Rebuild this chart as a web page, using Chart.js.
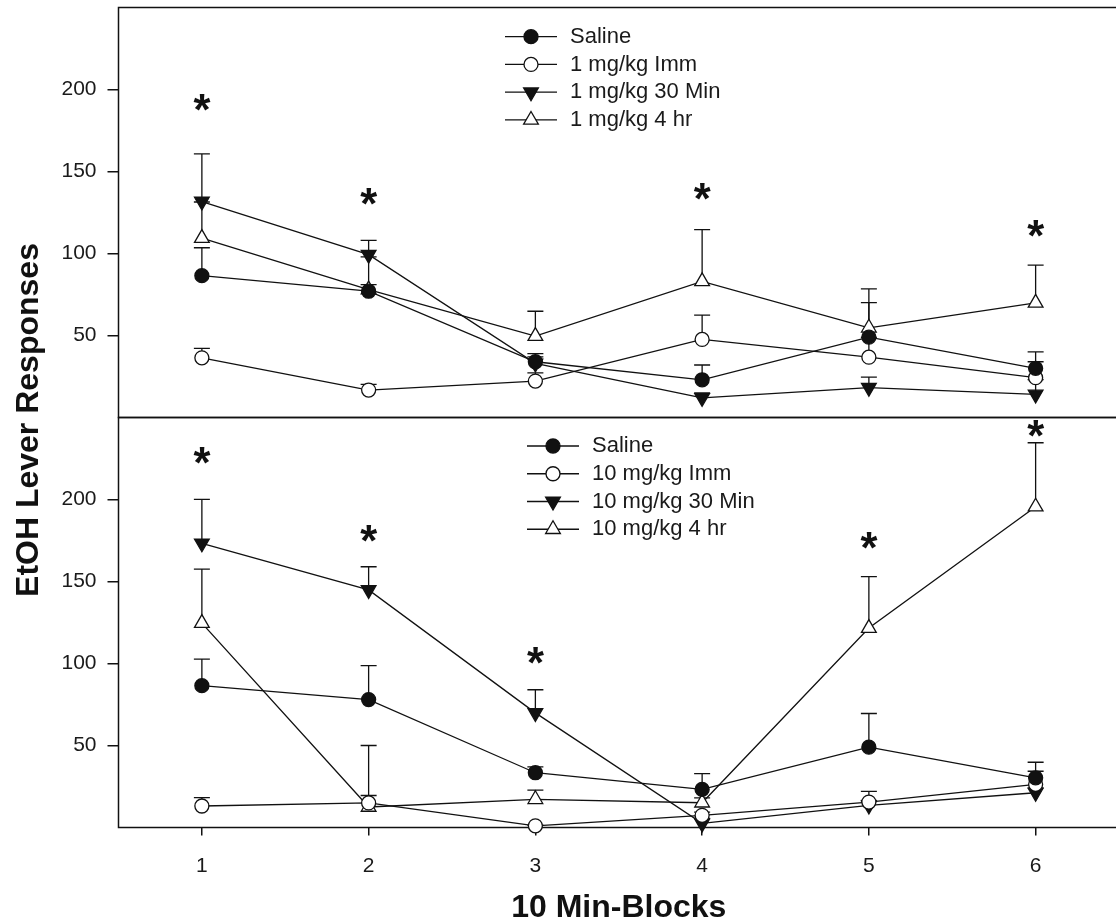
<!DOCTYPE html>
<html>
<head>
<meta charset="utf-8">
<title>EtOH Lever Responses by 10 Min-Blocks</title>
<script src="https://cdn.jsdelivr.net/npm/chart.js@4.4.1/dist/chart.umd.min.js"></script>
<style>
  html, body { margin: 0; padding: 0; background: #fff; overflow: hidden; }
  #wrap { position: relative; width: 1120px; height: 920px; }
  canvas { display: block; }
</style>
</head>
<body>
<div id="wrap"><canvas id="c" width="1120" height="920"></canvas></div>
<script>
// ---- data ----
const blocks = [1, 2, 3, 4, 5, 6];
const yTickValues = [50, 100, 150, 200];

// upper panel: 1 mg/kg
const topLabels   = ['Saline', '1 mg/kg Imm', '1 mg/kg 30 Min', '1 mg/kg 4 hr'];
const topSaline    = [86.5, 77, 34, 23, 49, 30];
const topSalineSem = [17, 21, 5, 9, 21, 10];
const topImm       = [36.4, 16.7, 22.2, 47.6, 36.8, 24.3];
const topImmSem    = [5.7, 3.5, 5, 14.8, 12, 9.7];
const top30        = [131.7, 99.3, 33, 12, 18.2, 14.1];
const top30Sem     = [29, 8.7, 4, 3, 6.4, 9];
const top4h        = [109.4, 78, 49.6, 83, 54.7, 69.9];
const top4hSem     = [22, 3, 15.2, 31.5, 23.7, 23];
const topStarBlocks = [1, 2, 4, 6];
const topStarY      = [192, 135, 138, 115];

// lower panel: 10 mg/kg
const botLabels   = ['Saline', '10 mg/kg Imm', '10 mg/kg 30 Min', '10 mg/kg 4 hr'];
const botSaline    = [86.5, 78, 33.4, 23.2, 49, 30.3];
const botSalineSem = [16.2, 20.7, 3.6, 9.6, 20.5, 9.5];
const botImm       = [13.1, 15, 1, 7.4, 15.5, 26.3];
const botImmSem    = [5.1, 4.5, 0.5, 2, 6.5, 8];
const bot30        = [173.3, 144.9, 69.9, 2.5, 13.5, 21.2];
const bot30Sem     = [26.8, 14.1, 14.1, 3, 3, 3];
const bot4h        = [124.6, 12.5, 17.2, 15.1, 121.6, 195.6];
const bot4hSem     = [33, 37.5, 5.6, 3, 31.4, 39];
const botStarBlocks = [1, 2, 3, 5, 6];
const botStarY      = [227, 179, 105, 175, 243];

// ---- styling ----
const FONT = "'Liberation Sans', Arial, Helvetica, sans-serif";
const INK = '#111';
const shapes = {
  filledCircle: { style: 'circle',   rot: 0,   r: 7,   fill: INK },
  openCircle:   { style: 'circle',   rot: 0,   r: 7,   fill: '#fff' },
  downTri:      { style: 'triangle', rot: 180, r: 8.5, fill: INK },
  upTri:        { style: 'triangle', rot: 0,   r: 8.5, fill: '#fff' }
};

function series(label, values, sems, axis, shape) {
  return {
    label: label,
    yAxisID: axis,
    data: blocks.map((b, i) => ({ x: b, y: values[i] })),
    errorBars: sems,
    marker: shape,
    borderColor: INK,
    borderWidth: 1.3,
    pointStyle: shape.style,
    pointRotation: shape.rot,
    pointRadius: shape.r,
    pointHoverRadius: shape.r,
    pointBackgroundColor: shape.fill,
    pointBorderColor: INK,
    pointBorderWidth: 1.3,
    tension: 0,
    fill: false,
    clip: false
  };
}

const datasets = [
  series(topLabels[0], topSaline, topSalineSem, 'yTop', shapes.filledCircle),
  series(topLabels[1], topImm,    topImmSem,    'yTop', shapes.openCircle),
  series(topLabels[2], top30,     top30Sem,     'yTop', shapes.downTri),
  series(topLabels[3], top4h,     top4hSem,     'yTop', shapes.upTri),
  series(botLabels[0], botSaline, botSalineSem, 'yBot', shapes.filledCircle),
  series(botLabels[1], botImm,    botImmSem,    'yBot', shapes.openCircle),
  series(botLabels[2], bot30,     bot30Sem,     'yBot', shapes.downTri),
  series(botLabels[3], bot4h,     bot4hSem,     'yBot', shapes.upTri)
];

const stars = {
  yTop: { blocks: topStarBlocks, y: topStarY },
  yBot: { blocks: botStarBlocks, y: botStarY }
};

const legendLayout = {
  yTop: { left: 505, top: 36.7 },
  yBot: { left: 527, top: 446 }
};

function drawMarker(ctx, shape, x, y) {
  ctx.save();
  ctx.fillStyle = shape.fill;
  ctx.strokeStyle = INK;
  ctx.lineWidth = 1.3;
  ctx.beginPath();
  if (shape.style === 'circle') {
    ctx.arc(x, y, shape.r, 0, Math.PI * 2);
  } else {
    let rad = shape.rot * Math.PI / 180;
    for (let k = 0; k < 3; k++) {
      const px = x + Math.sin(rad) * shape.r;
      const py = y - Math.cos(rad) * shape.r;
      if (k === 0) ctx.moveTo(px, py); else ctx.lineTo(px, py);
      rad += 2 * Math.PI / 3;
    }
    ctx.closePath();
  }
  ctx.fill();
  ctx.stroke();
  ctx.restore();
}

const panelDecor = {
  id: 'panelDecor',
  beforeDatasetsDraw(chart) {
    const ctx = chart.ctx, a = chart.chartArea;
    ctx.save();
    ctx.strokeStyle = INK;
    ctx.lineWidth = 1.5;
    ['yTop', 'yBot'].forEach(id => {
      const s = chart.scales[id];
      ctx.strokeRect(a.left, s.top, a.right - a.left, s.bottom - s.top);
    });
    // upward standard-error bars with caps
    ctx.lineWidth = 1.3;
    chart.data.datasets.forEach(ds => {
      const ys = chart.scales[ds.yAxisID], xs = chart.scales.x;
      ds.data.forEach((p, i) => {
        const x = xs.getPixelForValue(p.x);
        const y0 = ys.getPixelForValue(p.y);
        const y1 = ys.getPixelForValue(p.y + ds.errorBars[i]);
        ctx.beginPath();
        ctx.moveTo(x, y0); ctx.lineTo(x, y1);
        ctx.moveTo(x - 8, y1); ctx.lineTo(x + 8, y1);
        ctx.stroke();
      });
    });
    ctx.restore();
  },
  afterDraw(chart) {
    const ctx = chart.ctx, a = chart.chartArea, xs = chart.scales.x;
    ctx.save();
    ctx.fillStyle = INK;

    // significance asterisks
    ctx.font = 'bold 100px ' + FONT;
    const m100 = ctx.measureText('*');
    const w100 = m100.actualBoundingBoxLeft + m100.actualBoundingBoxRight;
    const starSize = 100 * 17 / w100;
    ctx.font = 'bold ' + starSize + 'px ' + FONT;
    const m = ctx.measureText('*');
    ctx.textAlign = 'left';
    ctx.textBaseline = 'alphabetic';
    Object.keys(stars).forEach(id => {
      const ys = chart.scales[id];
      stars[id].blocks.forEach((b, i) => {
        const cx = xs.getPixelForValue(b);
        const cy = ys.getPixelForValue(stars[id].y[i]);
        const x0 = cx - (m.actualBoundingBoxRight - m.actualBoundingBoxLeft) / 2;
        const y0 = cy + (m.actualBoundingBoxAscent - m.actualBoundingBoxDescent) / 2;
        ctx.fillText('*', x0, y0);
      });
    });

    // in-panel legends
    ctx.font = '22px ' + FONT;
    ctx.textBaseline = 'middle';
    Object.keys(legendLayout).forEach(id => {
      const L = legendLayout[id];
      chart.data.datasets.filter(ds => ds.yAxisID === id).forEach((ds, k) => {
        const y = L.top + k * 27.75;
        ctx.strokeStyle = INK;
        ctx.lineWidth = 1.3;
        ctx.beginPath();
        ctx.moveTo(L.left, y); ctx.lineTo(L.left + 52, y);
        ctx.stroke();
        drawMarker(ctx, ds.marker, L.left + 26, y);
        ctx.fillStyle = '#1a1a1a';
        ctx.fillText(ds.label, L.left + 65, y);
      });
    });

    // axis titles
    ctx.fillStyle = INK;
    ctx.font = 'bold 32px ' + FONT;
    ctx.textAlign = 'center';
    ctx.textBaseline = 'alphabetic';
    ctx.fillText('10 Min-Blocks', (a.left + a.right) / 2, 917);
    ctx.translate(38, 420);
    ctx.rotate(-Math.PI / 2);
    ctx.fillText('EtOH Lever Responses', 0, 0);
    ctx.restore();
  }
};

function yScale() {
  return {
    type: 'linear',
    position: 'left',
    stack: 'panels',
    stackWeight: 1,
    min: 0,
    max: 250,
    afterBuildTicks: s => { s.ticks = yTickValues.map(v => ({ value: v })); },
    afterFit: s => { s.width = 118.5; s.paddingTop = 0; s.paddingBottom = 0; },
    border: { display: false },
    grid: { drawOnChartArea: false, drawTicks: true, tickLength: 11, color: INK, lineWidth: 1.5 },
    ticks: { color: '#1a1a1a', font: { size: 21, family: FONT }, padding: 11 }
  };
}

new Chart(document.getElementById('c'), {
  type: 'line',
  data: { datasets: datasets },
  options: {
    responsive: false,
    animation: false,
    devicePixelRatio: 1,
    layout: { autoPadding: false, padding: { top: 7.5, right: 1, bottom: 0, left: 0 } },
    plugins: { legend: { display: false }, tooltip: { enabled: false } },
    scales: {
      x: {
        type: 'linear',
        min: 0.5,
        max: 6.5,
        position: 'bottom',
        afterBuildTicks: s => { s.ticks = blocks.map(v => ({ value: v })); },
        afterFit: s => { s.height = 92.5; s.paddingLeft = 0; s.paddingRight = 0; },
        border: { display: false },
        grid: { drawOnChartArea: false, drawTicks: true, tickLength: 8, color: INK, lineWidth: 1.5 },
        ticks: { color: '#1a1a1a', font: { size: 21, family: FONT }, padding: 18, maxRotation: 0, autoSkip: false,
                 callback: v => String(v) }
      },
      yBot: yScale(),
      yTop: yScale()
    }
  },
  plugins: [panelDecor]
});
</script>
</body>
</html>
